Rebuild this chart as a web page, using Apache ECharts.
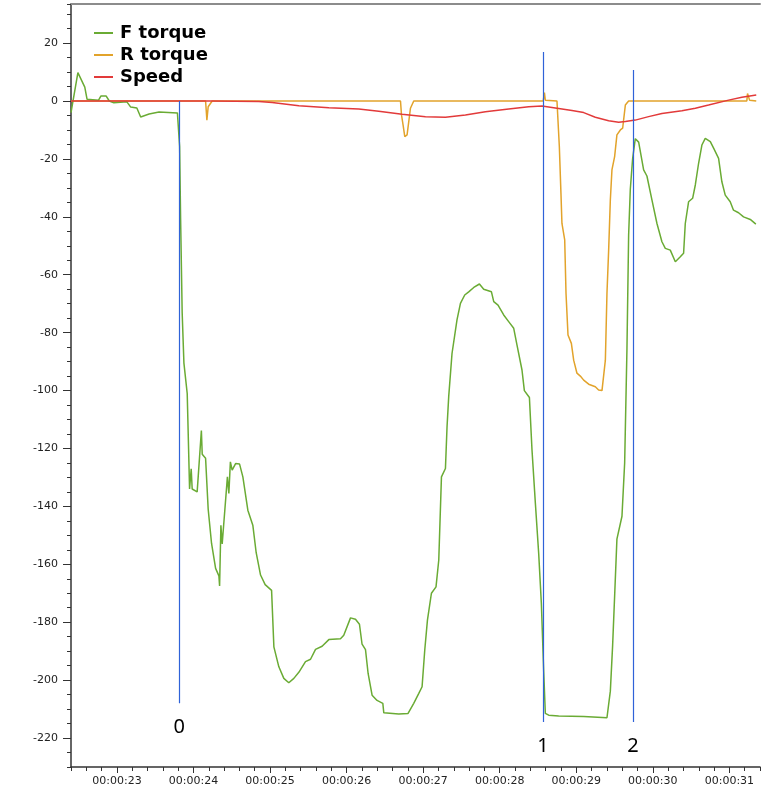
<!DOCTYPE html>
<html>
<head>
<meta charset="utf-8">
<script src="https://cdn.jsdelivr.net/npm/echarts@6/dist/echarts.min.js"></script>
<style>
  html, body { margin: 0; padding: 0; background: #fff; }
  #chart { width: 772px; height: 793px; }
</style>
</head>
<body>
<div id="chart"></div>
<script>
  // time in seconds
  const fTime = [22.40, 22.49, 22.58, 22.61, 22.76, 22.79, 22.86, 22.90, 22.96, 23.13, 23.18, 23.26, 23.31, 23.42, 23.55, 23.79,
    23.819, 23.832, 23.852, 23.875, 23.918, 23.949, 23.970, 23.983, 24.048, 24.103, 24.114, 24.158, 24.192, 24.236, 24.289,
    24.332, 24.341, 24.358, 24.375, 24.443, 24.462, 24.482, 24.505, 24.550, 24.602, 24.645, 24.710, 24.775, 24.819, 24.876,
    24.936, 25.020, 25.050, 25.115, 25.180, 25.245, 25.311, 25.376, 25.463, 25.529, 25.594, 25.680, 25.768, 25.920, 25.963,
    26.051, 26.116, 26.168, 26.202, 26.247, 26.281, 26.333, 26.398, 26.473, 26.486, 26.681, 26.803, 26.877, 26.943, 26.986,
    27.021, 27.056, 27.108, 27.168, 27.204, 27.239, 27.291, 27.312, 27.334, 27.377, 27.442, 27.487, 27.543, 27.595, 27.661,
    27.735, 27.791, 27.892, 27.922, 27.978, 28.052, 28.117, 28.183, 28.226, 28.291, 28.322, 28.388, 28.422, 28.466, 28.509,
    28.544, 28.574, 28.596, 28.640, 28.770, 29.097, 29.401, 29.445, 29.475, 29.501, 29.531, 29.597, 29.632, 29.662, 29.684,
    29.706, 29.736, 29.771, 29.815, 29.880, 29.923, 29.989, 30.054, 30.119, 30.163, 30.228, 30.294, 30.359, 30.402, 30.424,
    30.467, 30.520, 30.555, 30.598, 30.641, 30.685, 30.751, 30.794, 30.859, 30.902, 30.946, 31.011, 31.054, 31.120, 31.185,
    31.273, 31.346];
  const fTorque = [-4, 9.8, 4.8, 0.6, 0.3, 1.7, 1.7, 0, -0.6, -0.3, -2.1, -2.4, -5.5, -4.5, -3.8, -4.1,
    -15.8, -41, -73, -90.5, -101, -134, -127, -134, -135, -113.8, -122, -123.4, -141, -152.8, -161.4,
    -164, -167.5, -146.5, -153, -129.8, -135.5, -124.6, -127.5, -125.2, -125.4, -129.8, -141.3, -146.5, -156, -163.7,
    -167, -169, -188.5, -195.4, -199.4, -200.9, -199.4, -197.3, -193.6, -192.8, -189.4, -188.3, -186, -185.7, -184.5,
    -178.5, -179, -180.7, -187.6, -189.5, -197.7, -205.2, -207, -208, -211.3, -211.7, -211.5, -208, -204.6, -202.3,
    -189.6, -179.3, -170, -167.8, -158.5, -129.8, -126.9, -112.5, -102, -87.2, -75.6, -69.9, -67, -65.9, -64.4,
    -63.2, -65, -65.9, -69.3, -70.5, -73.9, -76.2, -78.5, -84.3, -92.9, -100, -102.4, -120.6, -139, -156.2,
    -173.5, -196.5, -211.5, -212.1, -212.4, -212.6, -213, -203.8, -188, -171, -151.3, -143.4, -125, -85.7, -46.3,
    -30.4, -20, -13, -14.2, -23.8, -25.9, -34.2, -42.3, -48.6, -50.9, -51.5, -55.5, -53.8, -52.6, -42.3,
    -34.8, -33.6, -29, -21.5, -15.2, -12.9, -14, -16.3, -19.8, -27.9, -32.5, -34.8, -37.7, -38.6, -40,
    -40.9, -42.5];

  const rTime = [22.40, 24.158, 24.175, 24.192, 24.244, 26.704, 26.717, 26.738, 26.760, 26.790, 26.812, 26.834, 26.877,
    28.568, 28.584, 28.596, 28.748, 28.779, 28.800, 28.813, 28.849, 28.866, 28.892, 28.936, 28.966, 29.009, 29.053,
    29.097, 29.162, 29.249, 29.292, 29.336, 29.380, 29.401, 29.423, 29.445, 29.466, 29.501, 29.531, 29.576, 29.606,
    29.641, 29.684, 31.228, 31.237, 31.264, 31.351];
  const rTorque = [0, 0, -6.6, -2, 0, 0, -4.8, -8.3, -12.3, -11.7, -7.1, -2.5, 0,
    0, 2.9, 0.3, 0, -15.8, -31.9, -42.3, -48, -66.4, -80.8, -83.7, -89.5, -94, -95,
    -96.4, -97.8, -98.7, -99.8, -100, -89.5, -66.4, -51.5, -34.2, -23.8, -19.2, -11.7, -10, -9.4,
    -1.4, 0, 0, 2.6, 0.3, 0];

  const sTime = [22.40, 24.24, 24.854, 25.027, 25.376, 25.768, 26.159, 26.420, 26.725, 27.030, 27.291, 27.552, 27.813,
    28.117, 28.379, 28.552, 28.748, 28.944, 29.097, 29.249, 29.423, 29.554, 29.641, 29.771, 29.945, 30.119, 30.380,
    30.555, 30.728, 30.990, 31.163, 31.351];
  const speed = [0, 0, -0.2, -0.5, -1.6, -2.3, -2.8, -3.5, -4.6, -5.4, -5.6, -4.8, -3.7,
    -2.8, -2, -1.7, -2.5, -3.3, -4, -5.6, -6.8, -7.3, -7.1, -6.6, -5.4, -4.3, -3.4,
    -2.5, -1.4, 0.3, 1.3, 2.1];

  // vertical event markers
  const markerNames = ['0', '1', '2'];
  const markerTime = [23.815, 28.565, 29.74];
  const markerTop = [0, 16.9, 10.7];
  const markerBottom = [-208, -214.5, -214.5];

  const secLabels = [23, 24, 25, 26, 27, 28, 29, 30, 31];
  const yLabels = [-220, -200, -180, -160, -140, -120, -100, -80, -60, -40, -20, 0, 20];

  const xMin = 22.4, xMax = 31.4, yMin = -230, yMax = 33.5;

  function zip(t, v) {
    return t.map((x, i) => [x, v[i]]);
  }

  const axisColor = '#333';
  const labelFont = { fontFamily: 'DejaVu Sans', fontSize: 11, color: '#222' };

  let chart = echarts.init(document.getElementById('chart'));

  chart.setOption({
    animation: false,
    grid: { left: 71, right: 12, top: 4, bottom: 26 },
    legend: {
      orient: 'vertical',
      left: 89,
      top: 19,
      icon: 'rect',
      itemWidth: 19,
      itemHeight: 2,
      itemGap: 4,
      data: ['F torque', 'R torque', 'Speed'],
      textStyle: { fontFamily: 'DejaVu Sans', fontWeight: 'bold', fontSize: 18, color: '#000', padding: [0, 0, 0, 2] }
    },
    xAxis: [
      {
        type: 'value', min: xMin, max: xMax, interval: 0.2, position: 'bottom',
        axisLine: { onZero: false, lineStyle: { color: axisColor, width: 1.5 } },
        axisTick: { length: 4, lineStyle: { color: axisColor } },
        axisLabel: { show: false },
        splitLine: { show: false }
      },
      {
        type: 'value', min: xMin, max: xMax, position: 'bottom',
        axisLine: { show: false, onZero: false },
        axisTick: { customValues: secLabels, length: 6, lineStyle: { color: axisColor } },
        axisLabel: Object.assign({
          customValues: secLabels, margin: 9,
          formatter: (v) => '00:00:' + String(Math.round(v)).padStart(2, '0')
        }, labelFont),
        splitLine: { show: false }
      },
      {
        type: 'value', min: xMin, max: xMax, position: 'top',
        axisLine: { onZero: false, lineStyle: { color: '#8c8c8c', width: 2 } },
        axisTick: { show: false },
        axisLabel: { show: false },
        splitLine: { show: false }
      }
    ],
    yAxis: [
      {
        type: 'value', min: yMin, max: yMax, interval: 5,
        axisLine: { show: true, onZero: false, lineStyle: { color: axisColor, width: 1.5 } },
        axisTick: { show: true, length: 4, lineStyle: { color: axisColor } },
        axisLabel: { show: false },
        splitLine: { show: false }
      },
      {
        type: 'value', min: yMin, max: yMax, position: 'left',
        axisLine: { show: false, onZero: false },
        axisTick: { show: true, customValues: yLabels, length: 8, lineStyle: { color: axisColor } },
        axisLabel: Object.assign({ customValues: yLabels, margin: 13 }, labelFont),
        splitLine: { show: false }
      }
    ],
    series: [
      {
        name: 'F torque', type: 'line', symbol: 'none', data: zip(fTime, fTorque),
        lineStyle: { color: '#6aab34', width: 1.5 }, itemStyle: { color: '#6aab34' },
        z: 3,
        markLine: {
          silent: true,
          symbol: 'none',
          lineStyle: { color: '#2f62d8', width: 1.2, type: 'solid', opacity: 1 },
          label: {
            show: true, position: 'end', distance: 14,
            formatter: (p) => p.name,
            fontFamily: 'Liberation Sans Narrow, Noto Sans', fontSize: 20, color: '#000'
          },
          data: markerNames.map((n, i) => [
            { name: n, coord: [markerTime[i], markerTop[i]] },
            { coord: [markerTime[i], markerBottom[i]] }
          ])
        }
      },
      {
        name: 'R torque', type: 'line', symbol: 'none', data: zip(rTime, rTorque),
        lineStyle: { color: '#e2a32b', width: 1.5 }, itemStyle: { color: '#e2a32b' },
        z: 2
      },
      {
        name: 'Speed', type: 'line', symbol: 'none', data: zip(sTime, speed),
        lineStyle: { color: '#e23a3a', width: 1.5 }, itemStyle: { color: '#e23a3a' },
        z: 4
      }
    ]
  });
</script>
</body>
</html>
